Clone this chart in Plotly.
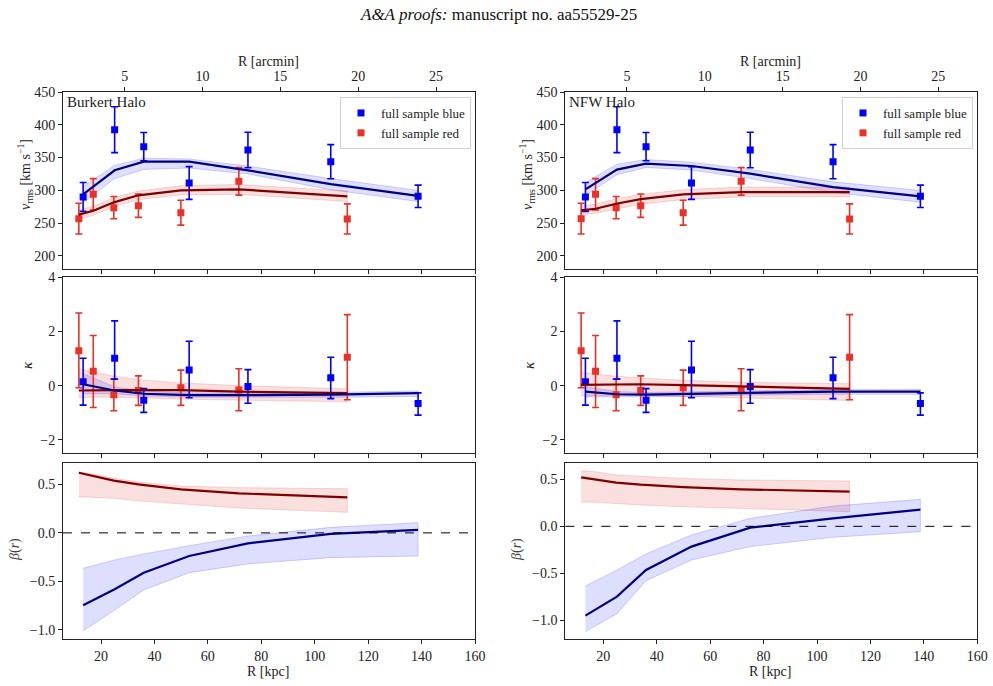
import plotly.graph_objects as go

# ---------------- data ----------------
# radii of the data bins (kpc)
r_blue = [13.3, 25.1, 36.0, 53.0, 75.0, 106.0, 138.7]
r_red = [11.7, 17.1, 24.8, 34.0, 49.9, 71.6, 112.2]

# v_rms data
v_blue = [290, 392.6, 366.7, 311.3, 361.6, 343.8, 291]
v_blue_err = [22, 35, 21.6, 25, 27, 26, 17]
v_red = [256.9, 294, 273.7, 276.7, 266, 313.8, 256.4]
v_red_err = [23.4, 24, 17, 17.8, 19, 21, 23]

# kappa data (asymmetric errors)
k_blue = [0.14, 1.01, -0.54, 0.58, -0.03, 0.29, -0.66]
k_blue_up = [0.87, 1.38, 0.43, 1.06, 0.62, 0.76, 0.39]
k_blue_dn = [0.86, 0.77, 0.45, 1.03, 0.62, 0.77, 0.43]
k_red = [1.29, 0.53, -0.34, -0.18, -0.08, -0.16, 1.05]
k_red_up = [1.39, 1.32, 0.58, 0.54, 0.65, 0.78, 1.57]
k_red_dn = [1.37, 1.34, 0.59, 0.55, 0.65, 0.77, 1.57]

# ---- Burkert model ----
bur_v_blue = [294, 330.6, 343.8, 343.8, 330.5, 309.5, 291.5]
bur_v_blue_hi = [306, 338, 349, 348, 337, 318, 300]
bur_v_blue_lo = [281, 318, 332, 334, 325, 301, 283]
bur_v_red = [263, 269, 281.8, 292.5, 300, 301.6, 291]
bur_v_red_hi = [270, 276, 289, 299, 307, 309, 299]
bur_v_red_lo = [256, 262, 275, 286, 293, 294, 283]

bur_k_blue = [0.05, -0.18, -0.30, -0.35, -0.35, -0.33, -0.28]
bur_k_blue_hi = [0.45, -0.05, -0.2, -0.27, -0.27, -0.25, -0.2]
bur_k_blue_lo = [-0.3, -0.3, -0.38, -0.43, -0.44, -0.43, -0.4]
bur_k_red = [-0.18, -0.17, -0.17, -0.17, -0.17, -0.22, -0.28]
bur_k_red_hi = [0.62, 0.5, 0.35, 0.22, 0.1, 0.0, -0.12]
bur_k_red_lo = [-0.45, -0.42, -0.42, -0.45, -0.5, -0.55, -0.6]

bur_b_blue = [-0.746, -0.581, -0.41, -0.238, -0.108, -0.011, 0.03]
bur_b_blue_hi = [-0.365, -0.279, -0.217, -0.132, -0.032, 0.057, 0.105]
bur_b_blue_lo = [-1.01, -0.794, -0.588, -0.41, -0.32, -0.255, -0.238]
bur_b_red = [0.62, 0.586, 0.538, 0.5, 0.448, 0.407, 0.366]
bur_b_red_hi = [0.627, 0.606, 0.562, 0.524, 0.483, 0.466, 0.455]
bur_b_red_lo = [0.373, 0.37, 0.356, 0.33, 0.297, 0.256, 0.212]

# ---- NFW model ----
nfw_v_blue = [301.5, 331.6, 340.8, 337.2, 325.5, 305, 291]
nfw_v_blue_hi = [312, 340, 347, 343, 332, 313, 300]
nfw_v_blue_lo = [292, 324, 335, 331, 318, 297, 282]
nfw_v_red = [269.4, 272, 279.6, 286.7, 293.9, 297.4, 297.4]
nfw_v_red_hi = [276, 279, 287, 294, 301, 305, 305]
nfw_v_red_lo = [263, 265, 272, 279, 286, 290, 290]

nfw_k_blue = [-0.22, -0.32, -0.33, -0.30, -0.25, -0.22, -0.22]
nfw_k_blue_hi = [-0.05, -0.22, -0.25, -0.22, -0.18, -0.15, -0.14]
nfw_k_blue_lo = [-0.42, -0.42, -0.42, -0.4, -0.35, -0.32, -0.32]
nfw_k_red = [0.03, 0.03, 0.04, 0.05, 0.02, -0.03, -0.12]
nfw_k_red_hi = [0.48, 0.42, 0.35, 0.28, 0.2, 0.12, 0.07]
nfw_k_red_lo = [-0.38, -0.38, -0.36, -0.36, -0.38, -0.45, -0.55]

nfw_b_blue = [-0.95, -0.748, -0.465, -0.216, -0.014, 0.085, 0.177]
nfw_b_blue_hi = [-0.635, -0.465, -0.294, -0.092, 0.085, 0.216, 0.287]
nfw_b_blue_lo = [-1.12, -0.93, -0.578, -0.358, -0.216, -0.117, -0.057]
nfw_b_red = [0.521, 0.5, 0.465, 0.443, 0.418, 0.394, 0.369]
nfw_b_red_hi = [0.592, 0.58, 0.546, 0.53, 0.51, 0.493, 0.482]
nfw_b_red_lo = [0.262, 0.255, 0.245, 0.227, 0.209, 0.188, 0.156]

panel_names = ["Burkert Halo", "NFW Halo"]
legend_names = ["full sample blue", "full sample red"]
arcmin_ticks = [5, 10, 15, 20, 25]
kpc_ticks = [20, 40, 60, 80, 100, 120, 140, 160]

# ---------------- styling ----------------
BLUE = "#0000ff"
RED = "#ec3025"
NAVY = "#000080"
DARKRED = "#800000"
BLUE_FILL = "rgba(0,0,255,0.13)"
RED_FILL = "rgba(220,40,40,0.15)"
BLUE_EDGE = "rgba(0,0,255,0.22)"
RED_EDGE = "rgba(220,40,40,0.22)"
FONT = "Liberation Serif"
TXT = "#222"

fig = go.Figure()


def band(x, lo, hi, fill, edge, xa, ya):
    fig.add_trace(go.Scatter(
        x=list(x) + list(x)[::-1], y=list(hi) + list(lo)[::-1],
        fill="toself", fillcolor=fill, mode="lines",
        line=dict(color=edge, width=0.8), hoverinfo="skip",
        showlegend=False, xaxis=xa, yaxis=ya))


def line(x, y, color, xa, ya):
    fig.add_trace(go.Scatter(x=x, y=y, mode="lines",
                             line=dict(color=color, width=2.2),
                             showlegend=False, xaxis=xa, yaxis=ya))


def points(x, y, up, dn, color, xa, ya, name=None, legend=None):
    fig.add_trace(go.Scatter(
        x=x, y=y, mode="markers",
        marker=dict(symbol="square", size=7, color=color),
        error_y=dict(type="data", array=up, arrayminus=dn, color=color,
                     thickness=1.6, width=3.5),
        name=name, showlegend=name is not None,
        legend=legend, xaxis=xa, yaxis=ya))


models = [
    dict(vb=bur_v_blue, vbh=bur_v_blue_hi, vbl=bur_v_blue_lo,
         vr=bur_v_red, vrh=bur_v_red_hi, vrl=bur_v_red_lo,
         kb=bur_k_blue, kbh=bur_k_blue_hi, kbl=bur_k_blue_lo,
         kr=bur_k_red, krh=bur_k_red_hi, krl=bur_k_red_lo,
         bb=bur_b_blue, bbh=bur_b_blue_hi, bbl=bur_b_blue_lo,
         br=bur_b_red, brh=bur_b_red_hi, brl=bur_b_red_lo),
    dict(vb=nfw_v_blue, vbh=nfw_v_blue_hi, vbl=nfw_v_blue_lo,
         vr=nfw_v_red, vrh=nfw_v_red_hi, vrl=nfw_v_red_lo,
         kb=nfw_k_blue, kbh=nfw_k_blue_hi, kbl=nfw_k_blue_lo,
         kr=nfw_k_red, krh=nfw_k_red_hi, krl=nfw_k_red_lo,
         bb=nfw_b_blue, bbh=nfw_b_blue_hi, bbl=nfw_b_blue_lo,
         br=nfw_b_red, brh=nfw_b_red_hi, brl=nfw_b_red_lo),
]

for c, m in enumerate(models):
    xt, yt = f"x{1 + c}", f"y{1 + c}"
    xm, ym = f"x{3 + c}", f"y{3 + c}"
    xb, yb = f"x{5 + c}", f"y{5 + c}"
    leg = "legend" if c == 0 else "legend2"
    # empty trace that registers the top (arcmin) axis
    fig.add_trace(go.Scatter(x=[], y=[], mode="markers", showlegend=False,
                             hoverinfo="skip", xaxis=f"x{7 + c}", yaxis=yt))
    # v_rms
    band(r_blue, m["vbl"], m["vbh"], BLUE_FILL, BLUE_EDGE, xt, yt)
    band(r_red, m["vrl"], m["vrh"], RED_FILL, RED_EDGE, xt, yt)
    points(r_blue, v_blue, v_blue_err, v_blue_err, BLUE, xt, yt, legend_names[0], leg)
    points(r_red, v_red, v_red_err, v_red_err, RED, xt, yt, legend_names[1], leg)
    line(r_blue, m["vb"], NAVY, xt, yt)
    line(r_red, m["vr"], DARKRED, xt, yt)
    # kappa
    band(r_red, m["krl"], m["krh"], RED_FILL, RED_EDGE, xm, ym)
    band(r_blue, m["kbl"], m["kbh"], BLUE_FILL, BLUE_EDGE, xm, ym)
    points(r_red, k_red, k_red_up, k_red_dn, RED, xm, ym)
    points(r_blue, k_blue, k_blue_up, k_blue_dn, BLUE, xm, ym)
    line(r_red, m["kr"], DARKRED, xm, ym)
    line(r_blue, m["kb"], NAVY, xm, ym)
    # beta
    band(r_red, m["brl"], m["brh"], RED_FILL, RED_EDGE, xb, yb)
    band(r_blue, m["bbl"], m["bbh"], BLUE_FILL, BLUE_EDGE, xb, yb)
    line(r_red, m["br"], DARKRED, xb, yb)
    line(r_blue, m["bb"], NAVY, xb, yb)
    fig.add_shape(type="line", xref=f"{xb} domain", yref=yb, x0=0, x1=1,
                  y0=0, y1=0, line=dict(color="black", width=1, dash="dash"),
                  layer="above")

W, H = 993, 686
xdoms = [[63 / W, 475 / W], [565.3 / W, 977.3 / W]]
ydoms = [[1 - 268.7 / H, 1 - 92 / H], [1 - 453.3 / H, 1 - 277.3 / H],
         [1 - 638.7 / H, 1 - 462.7 / H]]

axis_common = dict(showline=True, linecolor=TXT, linewidth=1, mirror=True,
                   ticks="outside", ticklen=4, tickwidth=1, tickcolor=TXT,
                   showgrid=False, zeroline=False, automargin=False,
                   tickfont=dict(family=FONT, size=14, color=TXT))

layout = dict(
    width=W, height=H, margin=dict(l=0, r=0, t=0, b=0, pad=0, autoexpand=False),
    plot_bgcolor="white", paper_bgcolor="white",
    font=dict(family=FONT, color=TXT),
)
yranges = [[180.6, 450], [-2.5, 4]]
bottom_ranges = [[-1.09, 0.723], [-1.196, 0.677]]
for c in range(2):
    for row in range(3):
        n = 1 + c + 2 * row
        layout[f"xaxis{n}"] = dict(axis_common, domain=xdoms[c], anchor=f"y{n}",
                                   range=[5.77, 160], tickvals=kpc_ticks,
                                   showticklabels=(row == 2))
        if row == 0:
            yax = dict(range=yranges[0], tickvals=list(range(200, 451, 50)))
        elif row == 1:
            yax = dict(range=yranges[1], tickvals=[-2, 0, 2, 4])
        else:
            yax = dict(range=bottom_ranges[c], tickvals=[-1.0, -0.5, 0.0, 0.5],
                       tickformat=".1f")
        layout[f"yaxis{n}"] = dict(axis_common, domain=ydoms[row], anchor=f"x{n}", **yax)
    # top arcmin axis
    layout[f"xaxis{7 + c}"] = dict(axis_common, overlaying=f"x{1 + c}", anchor=f"y{1 + c}",
                                   side="top", range=[1.04, 27.5],
                                   tickvals=arcmin_ticks, mirror=False)

fig.update_layout(**layout)

# legends
leg_common = dict(bgcolor="rgba(255,255,255,0.8)", bordercolor="#d0d0d0", borderwidth=1,
                  font=dict(family=FONT, size=13, color=TXT),
                  xanchor="right", yanchor="top", tracegroupgap=0, itemwidth=30)
fig.update_layout(
    legend=dict(leg_common, x=471 / W, y=1 - 97 / H),
    legend2=dict(leg_common, x=973 / W, y=1 - 97 / H),
)


def pa(**kw):
    d = dict(xref="paper", yref="paper", showarrow=False,
             xanchor="center", yanchor="middle")
    d.update(kw)
    return d


ann = []
for c in range(2):
    off = 0 if c == 0 else 502
    ann.append(pa(text=panel_names[c], x=(65 + off) / W, y=1 - 102 / H,
                  xanchor="left",
                  font=dict(family=FONT, size=15, color=TXT)))
    ann.append(pa(text="<i>v</i><sub>rms</sub> [km s<sup>−1</sup>]", x=(25 + off) / W,
                  y=1 - 175 / H, textangle=-90,
                  font=dict(family=FONT, size=14, color=TXT)))
    ann.append(pa(text="<i>κ</i>", x=(27 + off) / W, y=1 - 365 / H, textangle=-90,
                  font=dict(family=FONT, size=15, color=TXT)))
    ann.append(pa(text="<i>β</i>(<i>r</i>)", x=(15 + off) / W, y=1 - 550 / H,
                  textangle=-90, font=dict(family=FONT, size=14, color="#444")))
    ann.append(pa(text="R [kpc]", x=(268 + off) / W, y=1 - 671 / H,
                  font=dict(family=FONT, size=14, color=TXT)))
    ann.append(pa(text="R [arcmin]", x=(268 + off) / W, y=1 - 61 / H,
                  font=dict(family=FONT, size=14, color=TXT)))
ann.append(pa(text="<i>A&amp;A proofs:</i> manuscript no. aa55529-25", x=498 / W,
              y=1 - 14 / H, font=dict(family=FONT, size=17, color="#111")))
fig.update_layout(annotations=ann)

fig.write_html("out.html", config={"displayModeBar": False},
               post_script="document.body.style.margin='0';"
                           "document.body.style.overflow='hidden';")
